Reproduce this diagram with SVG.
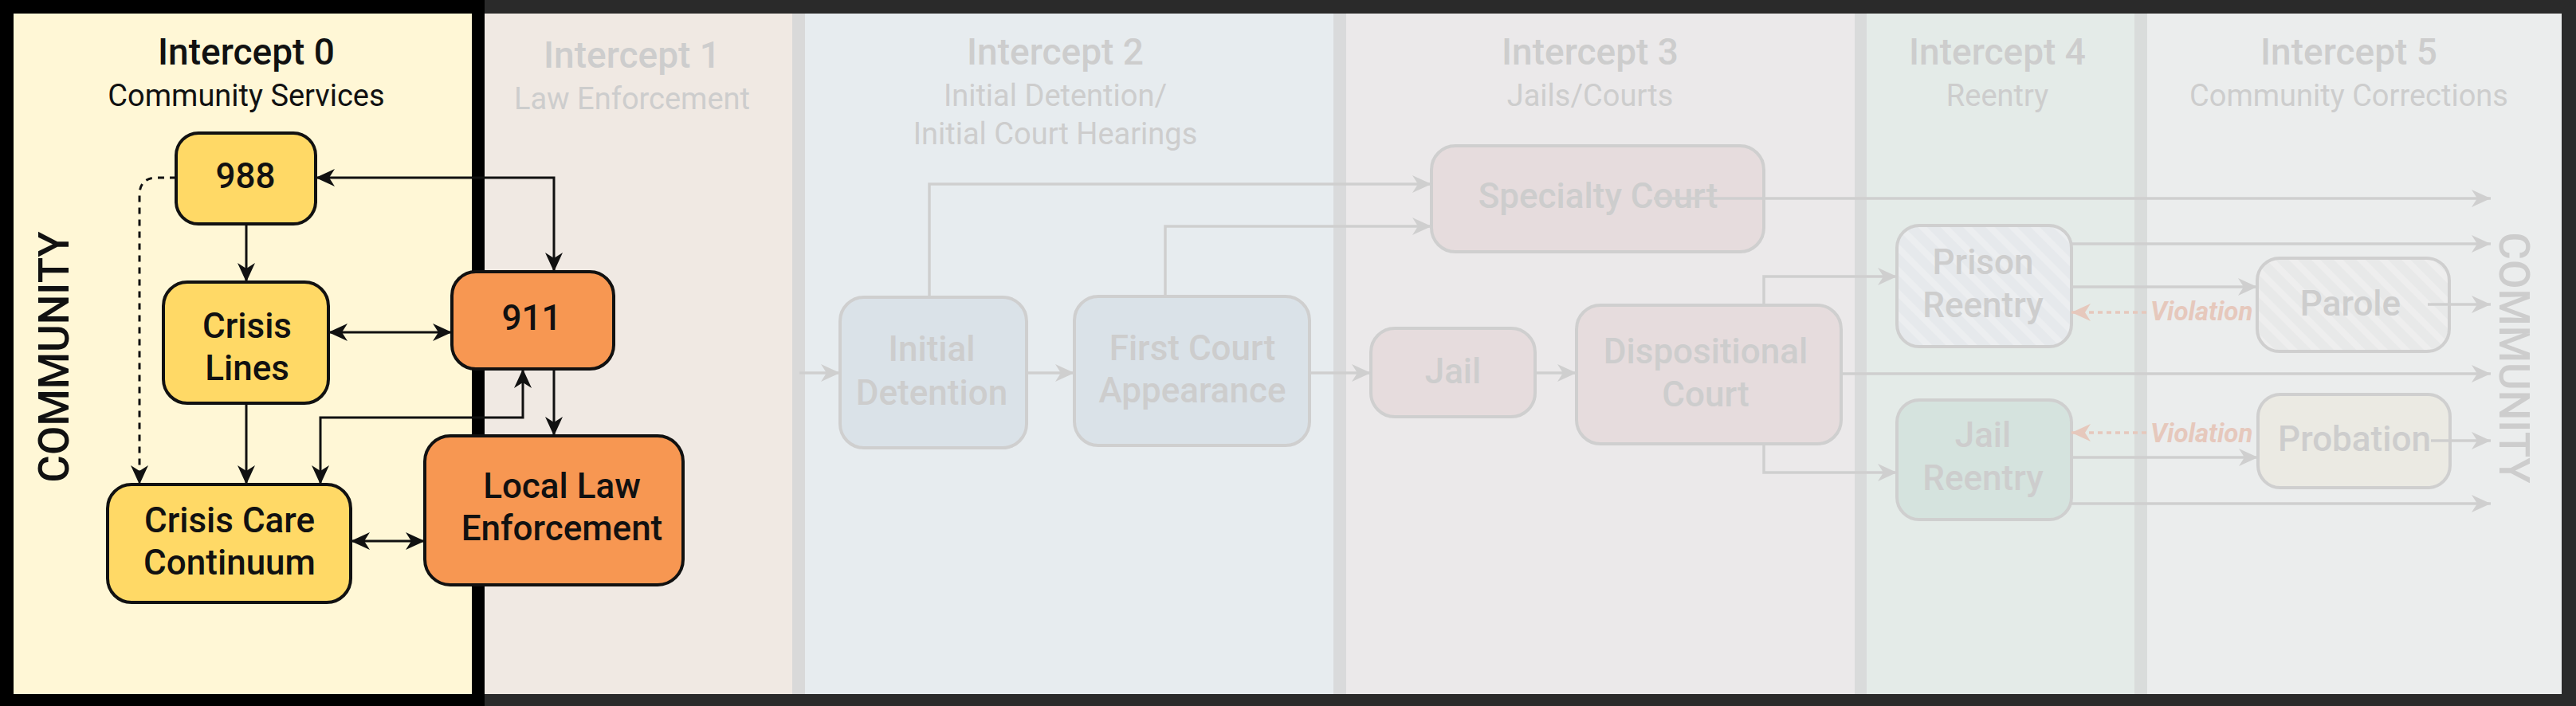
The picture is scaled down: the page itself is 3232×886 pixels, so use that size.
<svg xmlns="http://www.w3.org/2000/svg" width="3232" height="886" viewBox="0 0 3232 886">
<style>
.t{font-family:Roboto,"Liberation Sans",sans-serif;text-anchor:middle}
.title{font-size:46px;font-weight:500}
.sub{font-size:38px;font-weight:400}
.lbl{font-size:44px;font-weight:500}
.dark{fill:#111111}
.fade{fill:#cdcdcd}
.bnode{stroke:#111111;stroke-width:4}
.gnode{stroke:#cfcfcf;stroke-width:4}
.bl{fill:none;stroke:#111111;stroke-width:3}
.gl{fill:none;stroke:#cfcfcf;stroke-width:3.5}
.vl{fill:none;stroke:#e6c8bc;stroke-width:3.5;stroke-dasharray:6 5}
.viol{font-family:Roboto,"Liberation Sans",sans-serif;font-size:33px;font-weight:700;font-style:italic;fill:#e6c8bc}
</style>
<defs>
<marker id="ab" viewBox="0 0 24 22" refX="24" refY="11" markerWidth="24" markerHeight="22" markerUnits="userSpaceOnUse" orient="auto-start-reverse"><path d="M0,0 L24,11 L0,22 L7,11 Z" fill="#111111"/></marker>
<marker id="ag" viewBox="0 0 24 22" refX="24" refY="11" markerWidth="24" markerHeight="22" markerUnits="userSpaceOnUse" orient="auto-start-reverse"><path d="M0,0 L24,11 L0,22 L7,11 Z" fill="#cfcfcf"/></marker>
<marker id="av" viewBox="0 0 24 22" refX="24" refY="11" markerWidth="24" markerHeight="22" markerUnits="userSpaceOnUse" orient="auto-start-reverse"><path d="M0,0 L24,11 L0,22 L7,11 Z" fill="#e6c8bc"/></marker>
<pattern id="hatchP" patternUnits="userSpaceOnUse" width="20" height="20" patternTransform="rotate(-45)"><rect width="20" height="20" fill="#e6e9ec"/><rect width="8" height="20" fill="#eceef0"/></pattern>
<pattern id="hatchQ" patternUnits="userSpaceOnUse" width="20" height="20" patternTransform="rotate(-45)"><rect width="20" height="20" fill="#e8e9e9"/><rect width="8" height="20" fill="#eeeeee"/></pattern>
</defs>

<g id="background">
<rect x="0" y="0" width="3232" height="886" fill="#2a2a2a"/>
<rect x="608" y="17" width="386" height="854" fill="#f0e9e3"/>
<rect x="994" y="17" width="16" height="854" fill="#d9d9d9"/>
<rect x="1010" y="17" width="663" height="854" fill="#e7ecef"/>
<rect x="1673" y="17" width="16" height="854" fill="#d9dadb"/>
<rect x="1689" y="17" width="638" height="854" fill="#ebe9ea"/>
<rect x="2327" y="17" width="15" height="854" fill="#d9dbdb"/>
<rect x="2342" y="17" width="336" height="854" fill="#e4ebe8"/>
<rect x="2678" y="17" width="16" height="854" fill="#d9dcdb"/>
<rect x="2694" y="17" width="520" height="854" fill="#ebeded"/>
<rect x="0" y="0" width="608" height="886" fill="#000000"/>
<rect x="17" y="17" width="575" height="854" fill="#fff7d6"/>
</g>

<g id="headers">
<text class="t title dark" x="309" y="81">Intercept 0</text>
<text class="t sub dark" x="309" y="133">Community Services</text>
<text class="t title fade" x="793" y="85">Intercept 1</text>
<text class="t sub fade" x="793" y="137">Law Enforcement</text>
<text class="t title fade" x="1324" y="81">Intercept 2</text>
<text class="t sub fade" x="1324" y="133">Initial Detention/</text>
<text class="t sub fade" x="1324" y="181">Initial Court Hearings</text>
<text class="t title fade" x="1995" y="81">Intercept 3</text>
<text class="t sub fade" x="1995" y="133">Jails/Courts</text>
<text class="t title fade" x="2506" y="81">Intercept 4</text>
<text class="t sub fade" x="2506" y="133">Reentry</text>
<text class="t title fade" x="2947" y="81">Intercept 5</text>
<text class="t sub fade" x="2947" y="133">Community Corrections</text>
<text class="t dark" style="font-size:53px;font-weight:500" transform="translate(86,448) rotate(-90)">COMMUNITY</text>
<text class="t fade" style="font-size:53px;font-weight:500" transform="translate(3136,449) rotate(90)">COMMUNITY</text>
</g>

<g id="node-988"><rect class="bnode" x="221" y="167" width="175" height="114" rx="28" fill="#ffd966"/><text class="t lbl dark" x="308" y="236">988</text></g>
<g id="node-crisis-lines"><rect class="bnode" x="205" y="354" width="207" height="152" rx="30" fill="#ffd966"/><text class="t lbl dark" x="310" y="424">Crisis</text><text class="t lbl dark" x="310" y="477">Lines</text></g>
<g id="node-crisis-care"><rect class="bnode" x="135" y="608" width="305" height="148" rx="30" fill="#ffd966"/><text class="t lbl dark" x="288" y="668">Crisis Care</text><text class="t lbl dark" x="288" y="721">Continuum</text></g>
<g id="node-911"><rect class="bnode" x="567" y="341" width="203" height="122" rx="30" fill="#f79752"/><text class="t lbl dark" x="667" y="414">911</text></g>
<g id="node-local-law"><rect class="bnode" x="533" y="547" width="324" height="187" rx="32" fill="#f79752"/><text class="t lbl dark" x="705" y="625">Local Law</text><text class="t lbl dark" x="705" y="678">Enforcement</text></g>

<g id="node-initial-detention"><rect class="gnode" x="1054" y="373" width="234" height="189" rx="30" fill="#dae2e8"/><text class="t lbl fade" x="1169" y="453">Initial</text><text class="t lbl fade" x="1169" y="508">Detention</text></g>
<g id="node-first-court"><rect class="gnode" x="1348" y="372" width="295" height="187" rx="30" fill="#dae2e8"/><text class="t lbl fade" x="1496" y="452">First Court</text><text class="t lbl fade" x="1496" y="505">Appearance</text></g>
<g id="node-specialty-court"><rect class="gnode" x="1796" y="183" width="417" height="133" rx="30" fill="#e6dcdd"/><text class="t lbl fade" x="2005" y="261">Specialty Court</text></g>
<g id="node-jail"><rect class="gnode" x="1720" y="412" width="206" height="111" rx="30" fill="#e6dcdd"/><text class="t lbl fade" x="1823" y="481">Jail</text></g>
<g id="node-dispositional"><rect class="gnode" x="1978" y="383" width="332" height="174" rx="30" fill="#e6dcdd"/><text class="t lbl fade" x="2140" y="456">Dispositional</text><text class="t lbl fade" x="2140" y="510">Court</text></g>
<g id="node-prison-reentry"><rect class="gnode" x="2380" y="283" width="219" height="152" rx="28" fill="url(#hatchP)"/><text class="t lbl fade" x="2488" y="344">Prison</text><text class="t lbl fade" x="2488" y="398">Reentry</text></g>
<g id="node-jail-reentry"><rect class="gnode" x="2380" y="502" width="219" height="150" rx="28" fill="#d5e3de"/><text class="t lbl fade" x="2488" y="561">Jail</text><text class="t lbl fade" x="2488" y="615">Reentry</text></g>
<g id="node-parole"><rect class="gnode" x="2832" y="324" width="241" height="117" rx="28" fill="url(#hatchQ)"/><text class="t lbl fade" x="2949" y="396">Parole</text></g>
<g id="node-probation"><rect class="gnode" x="2833" y="495" width="241" height="117" rx="28" fill="#ebeae3"/><text class="t lbl fade" x="2954" y="566">Probation</text></g>

<g id="connectors">
<path class="bl" d="M309 281 L309 354" marker-end="url(#ab)"/>
<path class="bl" d="M309 506 L309 608" marker-end="url(#ab)"/>
<path class="bl" d="M396 223 L695 223 L695 341" marker-start="url(#ab)" marker-end="url(#ab)"/>
<path class="bl" d="M412 417 L567 417" marker-start="url(#ab)" marker-end="url(#ab)"/>
<path class="bl" d="M695 463 L695 547" marker-end="url(#ab)"/>
<path class="bl" d="M402 608 L402 524 L656 524 L656 463" marker-start="url(#ab)" marker-end="url(#ab)"/>
<path class="bl" d="M440 679 L533 679" marker-start="url(#ab)" marker-end="url(#ab)"/>
<path class="bl" d="M221 223 L197 223 Q175 223 175 245 L175 608" stroke-dasharray="8 7" marker-end="url(#ab)"/>

<path class="gl" d="M1003 468 L1054 468" marker-end="url(#ag)"/>
<path class="gl" d="M1288 468 L1348 468" marker-end="url(#ag)"/>
<path class="gl" d="M1643 468 L1720 468" marker-end="url(#ag)"/>
<path class="gl" d="M1926 468 L1978 468" marker-end="url(#ag)"/>
<path class="gl" d="M1166 373 L1166 231 L1796 231" marker-end="url(#ag)"/>
<path class="gl" d="M1462 372 L1462 284 L1796 284" marker-end="url(#ag)"/>
<path class="gl" d="M2075 249 L3125 249" marker-end="url(#ag)"/>
<path class="gl" d="M2213 383 L2213 347 L2380 347" marker-end="url(#ag)"/>
<path class="gl" d="M2213 557 L2213 593 L2380 593" marker-end="url(#ag)"/>
<path class="gl" d="M2310 469 L3125 469" marker-end="url(#ag)"/>
<path class="gl" d="M2599 306 L3125 306" marker-end="url(#ag)"/>
<path class="gl" d="M2599 360 L2832 360" marker-end="url(#ag)"/>
<path class="gl" d="M3046 382 L3125 382" marker-end="url(#ag)"/>
<path class="gl" d="M2599 574 L2833 574" marker-end="url(#ag)"/>
<path class="gl" d="M2599 632 L3125 632" marker-end="url(#ag)"/>
<path class="gl" d="M3050 553 L3125 553" marker-end="url(#ag)"/>
<path class="vl" d="M2693 392 L2599 392" marker-end="url(#av)"/>
<path class="vl" d="M2693 543 L2599 543" marker-end="url(#av)"/>
<text class="viol" x="2698" y="402">Violation</text>
<text class="viol" x="2698" y="555">Violation</text>
</g>
</svg>
